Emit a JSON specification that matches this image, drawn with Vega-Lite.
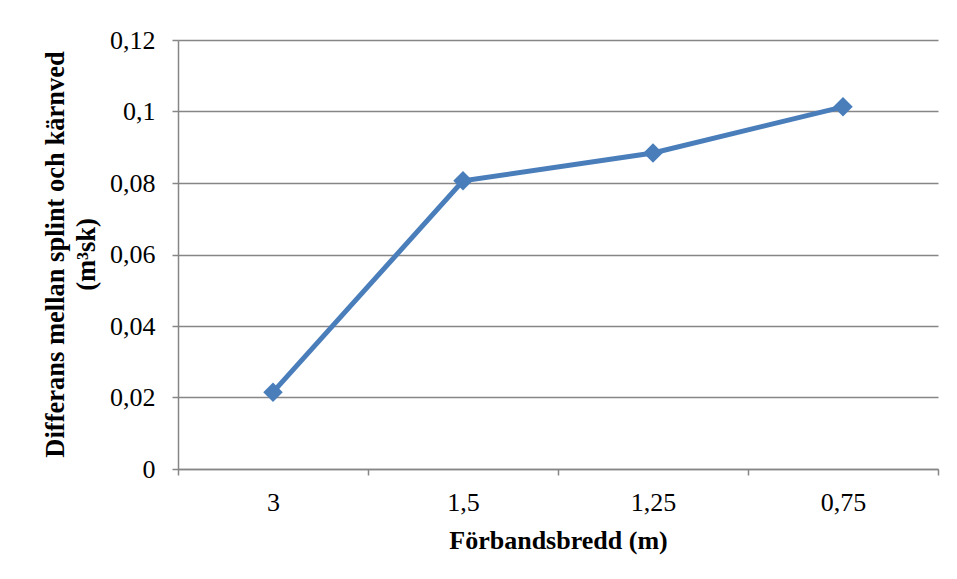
{
  "$schema": "https://vega.github.io/schema/vega-lite/v6.json",
  "width": 760,
  "height": 429,
  "autosize": {"type": "none"},
  "padding": {"left": 178, "top": 40, "right": 19, "bottom": 110},
  "background": "white",
  "config": {
    "view": {"stroke": null},
    "font": "Liberation Serif"
  },
  "data": {
    "values": [
      {"bredd": "3", "diff": 0.0215},
      {"bredd": "1,5", "diff": 0.0806},
      {"bredd": "1,25", "diff": 0.0884},
      {"bredd": "0,75", "diff": 0.1013}
    ]
  },
  "mark": {
    "type": "line",
    "color": "#4A7EBB",
    "strokeWidth": 5,
    "point": {"shape": "diamond", "size": 380, "filled": true, "color": "#4A7EBB", "opacity": 1}
  },
  "encoding": {
    "x": {
      "field": "bredd",
      "type": "ordinal",
      "sort": null,
      "scale": {"type": "band", "paddingInner": 0, "paddingOuter": 0},
      "axis": {
        "title": "Förbandsbredd (m)",
        "titleFont": "Liberation Serif",
        "titleFontSize": 26,
        "titleFontWeight": "bold",
        "titleColor": "#000000",
        "titleBaseline": "alphabetic",
        "titleY": 79,
        "labelFont": "Liberation Serif",
        "labelFontSize": 26,
        "labelColor": "#000000",
        "labelAngle": 0,
        "labelBaseline": "alphabetic",
        "labelPadding": 35,
        "tickBand": "extent",
        "tickSize": 6,
        "tickColor": "#868686",
        "tickWidth": 1.5,
        "domainColor": "#868686",
        "domainWidth": 1.5,
        "grid": false
      }
    },
    "y": {
      "field": "diff",
      "type": "quantitative",
      "scale": {"domain": [0, 0.12], "nice": false, "zero": true},
      "axis": {
        "values": [0, 0.02, 0.04, 0.06, 0.08, 0.1, 0.12],
        "labelExpr": "replace(format(datum.value, '~g'), '.', ',')",
        "title": ["Differans mellan splint och kärnved", "(m³sk)"],
        "titleFont": "Liberation Serif",
        "titleFontSize": 26.5,
        "titleFontWeight": "bold",
        "titleColor": "#000000",
        "titleAngle": -90,
        "titleAlign": "center",
        "titleBaseline": "top",
        "titleX": -136,
        "titleY": 214,
        "titleLineHeight": 31,
        "labelFont": "Liberation Serif",
        "labelFontSize": 26,
        "labelColor": "#000000",
        "labelPadding": 17,
        "tickSize": 6,
        "tickColor": "#868686",
        "tickWidth": 1.5,
        "domainColor": "#868686",
        "domainWidth": 1.5,
        "grid": true,
        "gridColor": "#868686",
        "gridWidth": 1.5
      }
    }
  }
}
